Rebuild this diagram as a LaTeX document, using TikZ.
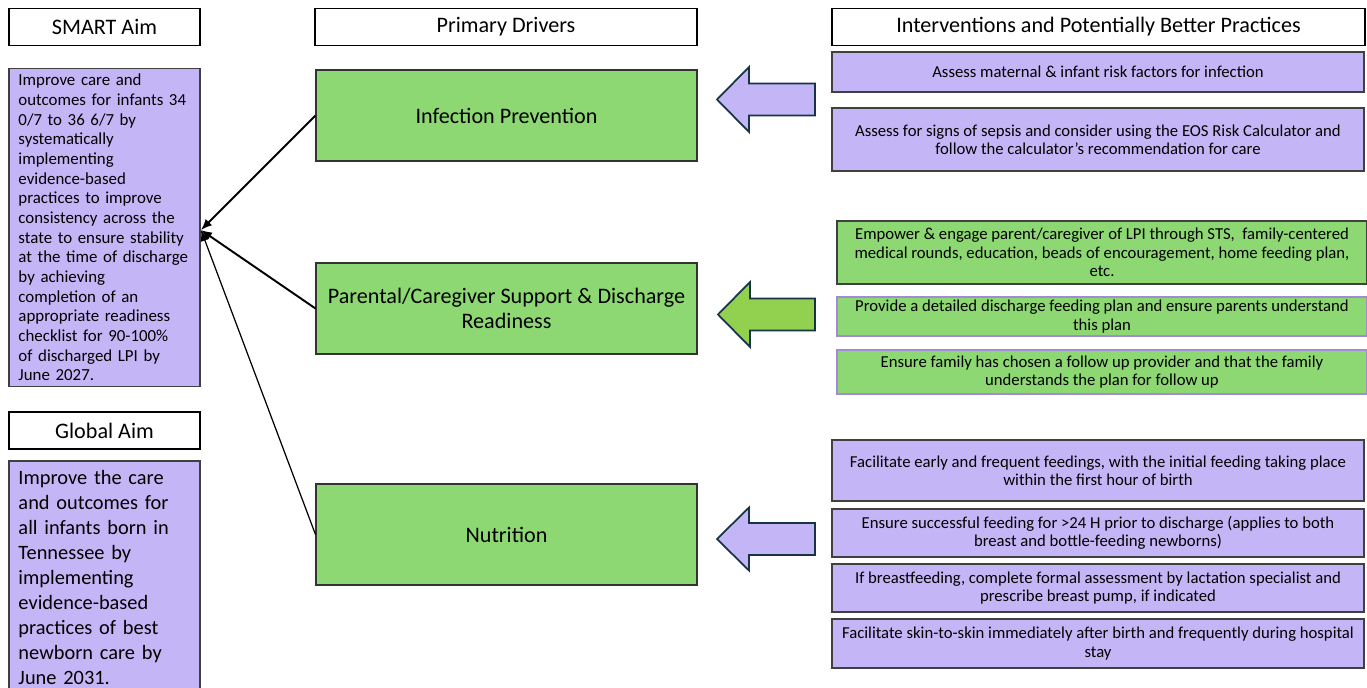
\documentclass[tikz,border=0pt]{standalone}
\usepackage{fontspec}
\setmainfont{Carlito}
\usetikzlibrary{arrows.meta}
\definecolor{lav}{RGB}{196,182,246}
\definecolor{grn}{RGB}{142,216,115}
\definecolor{grnA}{RGB}{146,208,80}
\definecolor{navy}{RGB}{22,52,70}
\definecolor{lavline}{RGB}{160,140,212}
\tikzset{
  head/.style={draw=black, line width=1.1pt, fill=white, minimum height=7.4mm, inner sep=0pt, font=\fontsize{12.6}{14}\selectfont},
  driver/.style={draw=black!80, line width=0.6pt, fill=grn, minimum width=76.2mm, minimum height=18.2mm, align=center, font=\fontsize{12.6}{13.9}\selectfont},
  aim/.style={draw=black!75, line width=0.6pt, fill=lav, minimum width=38.2mm, inner xsep=1.9mm, align=left},
  act/.style={draw=black!75, line width=0.6pt, fill=lav, inner sep=0pt, align=center, font=\fontsize{9.5}{10.4}\selectfont},
  bigarrow/.style={draw=navy, line width=1pt, line join=miter},
  link/.style={-{Latex[length=2.2mm,width=1.8mm]}, line width=1.1pt}
}
\begin{document}
\begin{tikzpicture}[x=0.2mm,y=-0.2mm]
\useasboundingbox (0,0) rectangle (1367,688);
\node[head, minimum width=38.2mm] (HSA) at (104.5,27) {SMART Aim};
\node[head, minimum width=76.4mm] (HPD) at (506,27) {Primary Drivers};
\node[head, minimum width=106.6mm] (HIB) at (1098.5,27) {Interventions and Potentially Better Practices};
\node[head, minimum width=38.2mm] (HGA) at (104.5,430.5) {Global Aim};
\node[aim, text width=34.4mm, minimum height=62.6mm, font=\fontsize{9.6}{11.2}\selectfont] (SA) at (104.5,227.5)
  {Improve care and\\ outcomes for infants 34\\ 0/7 to 36 6/7 by\\ systematically\\ implementing\\ evidence-based\\ practices to improve\\ consistency across the\\ state to ensure stability\\ at the time of discharge\\ by achieving\\ completion of an\\ appropriate readiness\\ checklist for 90-100\%\\ of discharged LPI by\\ June 2027.};
\node[aim, text width=34.4mm, minimum height=46.6mm, font=\fontsize{11.6}{14.2}\selectfont] (GA) at (104.5,577.5)
  {Improve the care\\ and outcomes for\\ all infants born in\\ Tennessee by\\ implementing\\ evidence-based\\ practices of best\\ newborn care by\\ June 2031.};
\node[driver] (IP) at (506.5,115.5) {Infection Prevention};
\node[driver] (PS) at (506.5,308.5) {Parental/Caregiver Support \& Discharge\\ Readiness};
\node[driver, minimum height=20.2mm] (NU) at (506.5,534.5) {Nutrition};
\coordinate (AT) at (201,230);
\draw[link] (IP.west) -- (AT);
\draw[link] (PS.west) -- (AT);
\draw[link, line width=0.7pt] (NU.west) -- (AT);
\draw[bigarrow, fill=lav, shift={(0,99.5)}] (815,-16) -- (749,-16) -- (749,-32.5) -- (717,0) -- (749,32.5) -- (749,16) -- (815,16) -- cycle;
\draw[bigarrow, fill=grnA, shift={(0,314.5)}] (815,-16) -- (750,-16) -- (750,-32.5) -- (718,0) -- (750,32.5) -- (750,16) -- (815,16) -- cycle;
\draw[bigarrow, fill=lav, shift={(0,539)}] (815,-16) -- (749,-16) -- (749,-31.5) -- (717,0) -- (749,31.5) -- (749,16) -- (815,16) -- cycle;
\node[act, minimum width=106.4mm, minimum height=8mm] (IA) at (1098,72) {Assess maternal \& infant risk factors for infection};
\node[act, minimum width=106.4mm, minimum height=12.6mm] (IB) at (1098,139.5) {Assess for signs of sepsis and consider using the EOS Risk Calculator and\\ follow the calculator’s recommendation for care};
\node[act, fill=grn, minimum width=106mm, minimum height=12.6mm] (PA) at (1102,252.5) {Empower \& engage parent/caregiver of LPI through STS,\ \ family-centered\\ medical rounds, education, beads of encouragement, home feeding plan,\\ etc.};
\node[act, fill=grn, draw=lavline, minimum width=106mm, minimum height=7.8mm] (PB) at (1102,316.5) {Provide a detailed discharge feeding plan and ensure parents understand\\ this plan};
\node[act, fill=grn, draw=lavline, minimum width=106mm, minimum height=8.8mm] (PC) at (1102,372) {Ensure family has chosen a follow up provider and that the family\\ understands the plan for follow up};
\node[act, minimum width=106.4mm, minimum height=12.2mm] (NA) at (1098,470.5) {Facilitate early and frequent feedings, with the initial feeding taking place\\ within the first hour of birth};
\node[act, minimum width=106.4mm, minimum height=9.6mm] (NB) at (1098,533) {Ensure successful feeding for >24 H prior to discharge (applies to both\\ breast and bottle-feeding newborns)};
\node[act, minimum width=106.4mm, minimum height=9.6mm] (NC) at (1098,588) {If breastfeeding, complete formal assessment by lactation specialist and\\ prescribe breast pump, if indicated};
\node[act, minimum width=106.4mm, minimum height=9.8mm] (ND) at (1098,643.5) {Facilitate skin-to-skin immediately after birth and frequently during hospital\\ stay};
\end{tikzpicture}
\end{document}
